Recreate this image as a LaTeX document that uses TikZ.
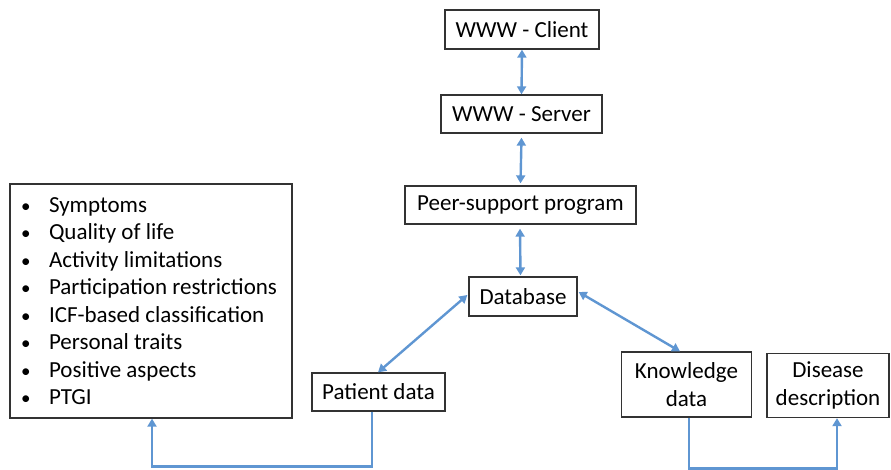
\documentclass[tikz,border=0pt]{standalone}
\usepackage{fontspec}
\setmainfont{Carlito}
\usetikzlibrary{arrows.meta,calc}
\definecolor{conncol}{RGB}{95,150,210}
\newcommand{\bul}{\makebox[29pt][l]{\hspace{1pt}{\fontsize{19}{0}\selectfont •}}}
\begin{document}
\begin{tikzpicture}[x=1pt,y=-1pt,
  box/.style={draw=black!80,line width=1.3pt,fill=white,inner sep=0pt,align=center,
    font=\fontsize{23}{28}\selectfont},
  conn/.style={draw=conncol,line width=2.4pt,arrows={-Triangle[length=8pt,width=9pt]}},
  dconn/.style={draw=conncol,line width=2.4pt,arrows={Triangle[length=8pt,width=9pt]-Triangle[length=8pt,width=9pt]}}]
\useasboundingbox (0,0) rectangle (891,470);
\node[box,minimum width=154pt,minimum height=39pt] (client) at (522,29.5) {WWW - Client};
\node[box,minimum width=161pt,minimum height=38pt] (server) at (521.5,114) {WWW - Server};
\node[box,minimum width=231pt,minimum height=38pt] (peer) at (520.5,205) {Peer-support program};
\node[box,minimum width=108pt,minimum height=39pt] (db) at (523,296.5) {Database};
\node[box,minimum width=133pt,minimum height=38pt] (patient) at (378.5,392) {Patient data};
\node[box,minimum width=130pt,minimum height=65pt] (know) at (686.5,384.5) {Knowledge\\data};
\node[box,minimum width=122pt,minimum height=64pt] (disease) at (828,385.5) {Disease\\description};
\node[box,minimum width=282pt,minimum height=234pt,align=flush left,text width=262pt,
  font=\fontsize{23}{27.5}\selectfont] (list) at (151,301) {%
  \bul Symptoms\\
  \bul Quality of life\\
  \bul Activity limitations\\
  \bul Participation restrictions\\
  \bul ICF-based classification\\
  \bul Personal traits\\
  \bul Positive aspects\\
  \bul PTGI};
\draw[dconn] (client.south) -- (server.north);
\draw[dconn] ([yshift=-4pt]server.south) -- ([yshift=2pt]peer.north);
\draw[dconn] ([xshift=-0.5pt,yshift=-4pt]peer.south) -- ([xshift=-2.5pt,yshift=1pt]db.north);
\draw[dconn] ([xshift=-1pt,yshift=1.5pt]db.west) -- ([xshift=-0.5pt]patient.north);
\draw[dconn] ([xshift=1pt,yshift=4.5pt]db.east) -- ([xshift=-6.5pt]know.north);
\draw[conn] ([xshift=-6.5pt]patient.south) -- ++(0,55) -| ([xshift=1pt]list.south);
\draw[conn] ([xshift=2.5pt]know.south) -- ++(0,51) -| ([xshift=9pt]disease.south);
\end{tikzpicture}
\end{document}
